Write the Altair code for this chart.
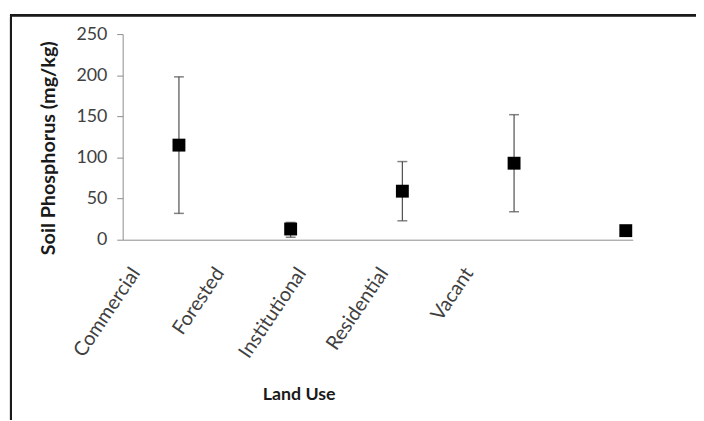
import altair as alt
import pandas as pd

land_use = ["Commercial", "Forested", "Institutional", "Residential", "Vacant"]
mean_p = [115, 13, 59, 93, 11]
low_p = [32, 3, 23, 34, 11]
high_p = [198, 21, 95, 152, 11]

df = pd.DataFrame({"land": land_use, "mean": mean_p, "low": low_p, "high": high_p})

FONT = "Lato"
label_offsets = [-44, -72, -102, -132, -159]
offset_cond = [{"test": f"datum.value === '{c}'", "value": o} for c, o in zip(land_use, label_offsets)]

x_enc = alt.X(
    "land:N",
    sort=land_use,
    scale=alt.Scale(type="point", padding=0.283, align=0.89),
    axis=alt.Axis(
        title="Land Use",
        labelAngle=-56,
        labelAlign="right",
        labelBaseline="middle",
        labelFont=FONT,
        labelFontSize=20,
        labelColor="#404040",
        labelPadding=30,
        labelOffset={"condition": offset_cond, "value": -44},
        ticks=False,
        domainColor="#8c8c8c",
        titleFont=FONT,
        titleFontSize=18,
        titleFontWeight="bold",
        titleColor="#1a1a1a",
        titleX=178,
        titleY=162,
        titleBaseline="alphabetic",
        titleAlign="center",
    ),
)

y_scale = alt.Scale(domain=[0, 250])

border = alt.Chart(df).mark_rect(fill=None, stroke="#1a1a1a", strokeWidth=2, clip=False).encode(
    x=alt.value(-113), x2=alt.value(700), y=alt.value(-19), y2=alt.value(500)
)

rules = alt.Chart(df).mark_rule(color="#4d4d4d", strokeWidth=1.2).encode(
    x=x_enc,
    y=alt.Y(
        "low:Q",
        scale=y_scale,
        axis=alt.Axis(
            title="Soil Phosphorus (mg/kg)",
            values=[0, 50, 100, 150, 200, 250],
            grid=False,
            tickSize=6,
            tickColor="#8c8c8c",
            domainColor="#8c8c8c",
            labelFont=FONT,
            labelFontSize=18,
            labelColor="#404040",
            labelPadding=10,
            titleFont=FONT,
            titleFontSize=20,
            titleFontWeight="bold",
            titleColor="#1a1a1a",
            titleX=-75,
            titleY=115,
            titleAlign="center",
            titleBaseline="middle",
            titleAngle=-90,
        ),
    ),
    y2="high:Q",
)

caps_hi = alt.Chart(df).mark_tick(color="#4d4d4d", size=10, thickness=1.5, orient="horizontal").encode(
    x=x_enc, y=alt.Y("high:Q", scale=y_scale)
)
caps_lo = alt.Chart(df).mark_tick(color="#4d4d4d", size=10, thickness=1.5, orient="horizontal").encode(
    x=x_enc, y=alt.Y("low:Q", scale=y_scale)
)
points = alt.Chart(df).mark_square(color="black", opacity=1, size=170, filled=True).encode(
    x=x_enc, y=alt.Y("mean:Q", scale=y_scale)
)

chart = alt.layer(border, rules, caps_hi, caps_lo, points).properties(
    width=516,
    height=208,
    autosize=alt.AutoSizeParams(type="none"),
    padding={"left": 116, "top": 24, "right": 64, "bottom": 180},
).configure_view(stroke=None)

chart.save("out.html", embed_options={"renderer": "svg", "actions": False})
